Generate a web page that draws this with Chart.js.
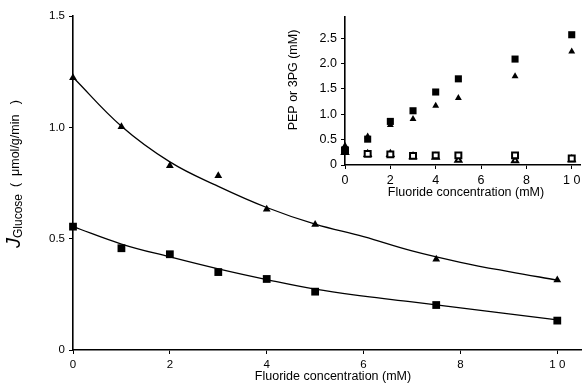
<!DOCTYPE html>
<html>
<head>
<meta charset="utf-8">
<script src="https://cdn.jsdelivr.net/npm/chart.js@4.4.1/dist/chart.umd.min.js"></script>
<style>
  body { margin: 0; background: #fff; }
  #wrap { position: relative; width: 587px; height: 385px; }
  #main { position: absolute; left: 0; top: 0; }
  #inset { position: absolute; left: 280px; top: 0; }
</style>
</head>
<body>
<div id="wrap">
  <canvas id="main" width="587" height="385"></canvas>
  <canvas id="inset" width="307" height="200"></canvas>
</div>
<script>
/* -------------------- DATA -------------------- */
// main panel: glucose flux vs fluoride
const fluoride = [0, 1, 2, 3, 4, 5, 7.5, 10];
const fluxTriangle = [1.223, 1.003, 0.828, 0.783, 0.632, 0.564, 0.407, 0.314];
const fluxSquare = [0.554, 0.457, 0.430, 0.350, 0.319, 0.262, 0.202, 0.132];

// fitted curves
const fitX = [0, 1, 2, 3, 4, 5, 6, 7, 8, 9, 10];
const fitTriangle = [1.225, 1.005, 0.845, 0.735, 0.640, 0.565, 0.509, 0.445, 0.394, 0.352, 0.314];
const fitSquare = [0.554, 0.476, 0.418, 0.364, 0.316, 0.273, 0.242, 0.216, 0.189, 0.162, 0.135];

// inset: PEP / 3PG vs fluoride
const insetFilledSquare = [0.30, 0.51, 0.86, 1.07, 1.44, 1.70, 2.09, 2.57];
const insetFilledTriangle = [0.38, 0.56, 0.79, 0.91, 1.17, 1.32, 1.75, 2.24];
const insetOpenSquare = [0.28, 0.22, 0.21, 0.18, 0.19, 0.19, 0.19, 0.13];
const insetOpenTriangle = [0.25, 0.21, 0.21, 0.17, 0.16, 0.10, 0.09, 0.11];

// ticks
const mainXTicks = [0, 2, 4, 6, 8, 10];
const mainXLabels = ["0", "2", "4", "6", "8", "1 0"];
const mainYTicks = [0, 0.5, 1, 1.5];
const mainYLabels = ["0", "0.5", "1.0", "1.5"];
const insetXTicks = [0, 2, 4, 6, 8, 10];
const insetXLabels = ["0", "2", "4", "6", "8", "1 0"];
const insetYTicks = [0, 0.5, 1, 1.5, 2, 2.5];
const insetYLabels = ["0", "0.5", "1.0", "1.5", "2.0", "2.5"];

/* -------------------- HELPERS -------------------- */
const FONT = "'Liberation Sans', Arial, sans-serif";
const pts = (xs, ys) => xs.map((x, i) => ({ x, y: ys[i] }));

function scatter(data, style, radius, filled) {
  return {
    type: "scatter",
    data,
    pointStyle: style,
    pointRadius: radius,
    pointHoverRadius: radius,
    pointBackgroundColor: filled ? "#000" : "#fff",
    pointBorderColor: "#000",
    pointBorderWidth: filled ? 0 : 2,
    showLine: false,
    clip: false
  };
}

function curve(data) {
  return {
    type: "line",
    data,
    borderColor: "#000",
    borderWidth: 1.3,
    pointRadius: 0,
    tension: 0.4,
    fill: false,
    clip: false
  };
}

function axis(ticks, labels, fontSize, extra) {
  return Object.assign({
    type: "linear",
    afterBuildTicks: s => { s.ticks = ticks.map(v => ({ value: v })); },
    ticks: {
      color: "#000",
      font: { family: FONT, size: fontSize },
      padding: 4,
      callback: v => labels[ticks.indexOf(v)]
    },
    grid: { drawOnChartArea: false, drawTicks: true, tickLength: 4, color: "#000", lineWidth: 1 },
    border: { display: true, color: "#000", width: 1.6 }
  }, extra);
}

// axis titles drawn by hand (subscript in the main y title)
const titles = {
  id: "titles",
  afterDraw(chart, args, o) {
    const ctx = chart.ctx;
    ctx.save();
    ctx.fillStyle = "#000";
    ctx.textBaseline = "middle";
    ctx.textAlign = "center";
    ctx.font = o.xFont;
    ctx.fillText(o.xText, o.xPos[0], o.xPos[1]);

    ctx.translate(o.yPos[0], o.yPos[1]);
    ctx.rotate(-Math.PI / 2);
    ctx.textAlign = "left";
    let w = 0;
    o.yParts.forEach(p => { ctx.font = p.font; w += ctx.measureText(p.text).width; });
    let x = -w / 2;
    o.yParts.forEach(p => {
      ctx.font = p.font;
      ctx.fillText(p.text, x, p.dy || 0);
      x += ctx.measureText(p.text).width;
    });
    ctx.restore();
  }
};

/* -------------------- MAIN CHART -------------------- */
new Chart(document.getElementById("main"), {
  data: {
    datasets: [
      scatter(pts(fluoride, fluxTriangle), "triangle", 4.5, true),
      scatter(pts(fluoride, fluxSquare), "rect", 5.5, true),
      curve(pts(fitX, fitTriangle)),
      curve(pts(fitX, fitSquare))
    ]
  },
  options: {
    responsive: false,
    animation: false,
    layout: { padding: { top: 16, right: 0, left: 0, bottom: 0 } },
    plugins: {
      legend: { display: false },
      tooltip: { enabled: false },
      titles: {
        xText: "Fluoride concentration (mM)",
        xFont: "12.5px " + FONT,
        xPos: [333, 377],
        yPos: [16, 174],
        yParts: [
          { text: "J", font: "italic 20px " + FONT, dy: -2 },
          { text: "Glucose", font: "12px " + FONT, dy: 3 },
          { text: "  (  \u03bcmol/g/min   )", font: "12.5px " + FONT }
        ]
      }
    },
    scales: {
      x: axis(mainXTicks, mainXLabels, 11.5, {
        position: "bottom", min: 0, max: 10.5,
        afterFit: s => { s.height = 35; }
      }),
      y: axis(mainYTicks, mainYLabels, 11.5, {
        position: "left", min: 0, max: 1.5,
        afterFit: s => { s.width = 73; }
      })
    }
  },
  plugins: [titles]
});

/* -------------------- INSET -------------------- */
new Chart(document.getElementById("inset"), {
  data: {
    datasets: [
      scatter(pts(fluoride, insetFilledSquare), "rect", 5, true),
      scatter(pts(fluoride, insetFilledTriangle), "triangle", 4, true),
      scatter(pts(fluoride, insetOpenSquare), "rect", 4.2, false),
      scatter(pts(fluoride, insetOpenTriangle), "triangle", 3.5, false)
    ]
  },
  options: {
    responsive: false,
    animation: false,
    layout: { padding: { top: 17, right: 0, left: 0, bottom: 0 } },
    plugins: {
      legend: { display: false },
      tooltip: { enabled: false },
      titles: {
        xText: "Fluoride concentration (mM)",
        xFont: "12.5px " + FONT,
        xPos: [186, 193],
        yPos: [14, 80],
        yParts: [{ text: "PEP or 3PG (mM)", font: "12.5px " + FONT }]
      }
    },
    scales: {
      x: axis(insetXTicks, insetXLabels, 12.5, {
        position: "bottom", min: 0, max: 10.4,
        afterFit: s => { s.height = 35; }
      }),
      y: axis(insetYTicks, insetYLabels, 12.5, {
        position: "left", min: 0, max: 2.92,
        afterFit: s => { s.width = 65; }
      })
    }
  },
  plugins: [titles]
});
</script>
</body>
</html>
